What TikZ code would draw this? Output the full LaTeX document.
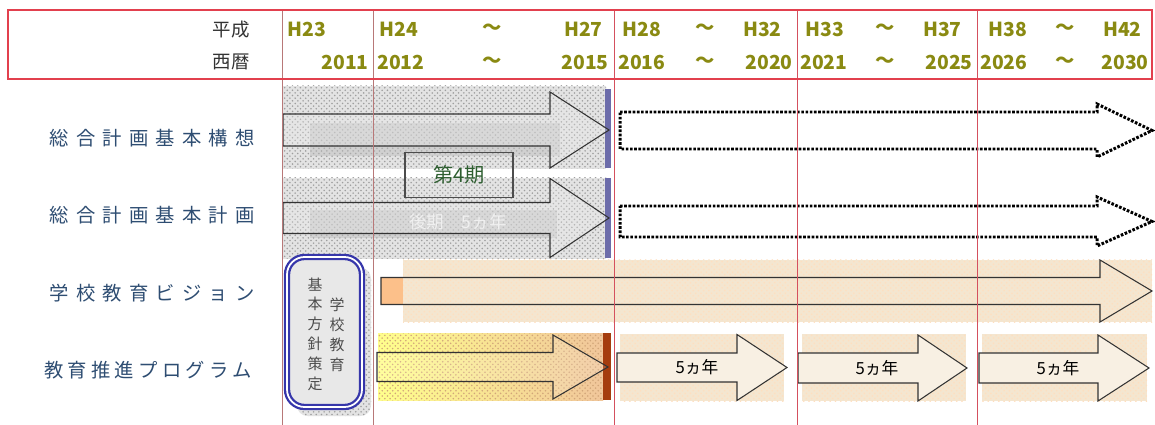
\documentclass[tikz,border=0pt]{standalone}
\usepackage{fontspec}
\setmainfont{Noto Sans CJK JP}
\usepackage{xcolor}
\usetikzlibrary{patterns, positioning}

\definecolor{hdrred}{HTML}{E2404E}
\definecolor{gridred}{HTML}{D4505E}
\definecolor{gridbrown}{HTML}{B87878}
\definecolor{yearol}{HTML}{8A8A12}
\definecolor{rowblue}{HTML}{2E4D72}
\definecolor{slatebar}{HTML}{6C6CAA}
\definecolor{beige}{HTML}{F4E6D0}
\definecolor{peach}{HTML}{FCC08A}
\definecolor{rust}{HTML}{A53C0E}
\definecolor{boxblue}{HTML}{3636AA}
\definecolor{leafgreen}{HTML}{2E5E30}

% block arrow: [opts]{x start}{x head}{x tip}{y centre}{half shaft}{half head}
\newcommand{\blkarrow}[7][]{%
  \draw[#1] (#2,#5-#6) -- (#3,#5-#6) -- (#3,#5-#7) -- (#4,#5)
    -- (#3,#5+#7) -- (#3,#5+#6) -- (#2,#5+#6) -- cycle;}

\begin{document}
\begin{tikzpicture}[x=0.02cm, y=-0.02cm,
  rowlabel/.style={anchor=east, text=rowblue, inner sep=0pt,
    font=\fontsize{11}{13}\selectfont\addfontfeature{LetterSpace=#1}},
  rowlabel/.default=37,
  hdrlabel/.style={anchor=east, text=black!80, inner sep=0pt, font=\fontsize{10.5}{12}\selectfont},
  yearlbl/.style={text=yearol, inner sep=0pt, font=\fontsize{11}{13}\selectfont\bfseries},
  grayband/.style={preaction={fill=gray!22}, pattern=crosshatch dots, pattern color=gray!75},
  peachband/.style={preaction={fill=beige}, pattern=crosshatch dots, pattern color=orange!25},
  outlinearrow/.style={draw=black!80, line width=0.6pt},
  dotarrow/.style={draw=black, line width=1.7pt, dash pattern=on 1.5pt off 0.9pt, fill=white},
  fiveyr/.style={inner sep=0pt, font=\fontsize{9.5}{11}\selectfont},
  boxtxt/.style={inner sep=0pt, text=black!70, align=center,
    font=\fontsize{8.5}{11.3}\selectfont},
]
  \useasboundingbox (0,0) rectangle (1155,425);
  \fill[white] (0,0) rectangle (1155,425);

  % bands behind the arrows
  \fill[grayband] (282,86) rectangle (606,169);
  \fill[grayband] (282,178) rectangle (606,259);
  \fill[gray!55, opacity=0.45] (310,123) rectangle (560,156);
  \fill[gray!55, opacity=0.45] (310,210) rectangle (557,238);
  \fill[slatebar] (605,89) rectangle (611,168);
  \fill[slatebar] (605,178) rectangle (611,258);

  \fill[peachband] (403,260) rectangle (1152,322);
  \fill[peach] (381,277) rectangle (403,304);

  \fill[left color=yellow!45, right color=brown!50!orange!45] (378,333) rectangle (603,400);
  \fill[pattern=crosshatch dots, pattern color=brown!70] (378,333) rectangle (603,400);
  \fill[rust] (603,333) rectangle (611,400);
  \foreach \a/\b in {620/784, 802/966, 982/1147}
    \fill[peachband] (\a,334) rectangle (\b,401);

  % arrows
  \blkarrow[outlinearrow, fill=gray!15, fill opacity=0.3]{283}{550}{609}{130}{16}{38}
  \blkarrow[outlinearrow, fill=gray!15, fill opacity=0.3]{283}{550}{609}{218}{15.5}{39.5}
  \blkarrow[dotarrow]{620}{1097}{1152}{130.5}{18.5}{26.5}
  \blkarrow[dotarrow]{620}{1097}{1152}{221.5}{15.5}{24.5}
  \blkarrow[outlinearrow]{381}{1100}{1152}{291}{13.5}{31}
  \blkarrow[outlinearrow, fill=white, fill opacity=0.15]{377}{553}{608}{367}{14.5}{32}
  \blkarrow[outlinearrow, fill=beige!60!white]{617}{737}{787}{367.5}{14.5}{33}
  \blkarrow[outlinearrow, fill=beige!60!white]{798}{918}{967}{368}{15}{33}
  \blkarrow[outlinearrow, fill=beige!60!white]{979}{1098}{1149}{368}{15}{33}

  % year grid
  \foreach \x in {282,373}
    \draw[gridbrown, line width=0.5pt] (\x,10) -- (\x,425);
  \foreach \x in {614,797,977}
    \draw[gridred, line width=0.5pt] (\x,10) -- (\x,425);
  \draw[hdrred, line width=1.6pt] (8,10) rectangle (1152,79);

  % header
  \node[hdrlabel] (heisei) at (250,30) {平成};
  \node[hdrlabel] (seireki) at (250,62) {西暦};
  \foreach \n/\a/\x/\t in {h23/west/287/H23, h24/west/379/H24, ta/center/492/～,
      h27/east/603/H27, h28/west/622/H28, tb/center/705/～, h32/east/782/H32,
      h33/west/805/H33, tc/center/885/～, h37/east/962/H37, h38/west/988/H38,
      td/center/1065/～, h42/east/1142/H42}
    \node[yearlbl, anchor=\a] (\n) at (\x,29) {\t};
  \foreach \n/\a/\x/\t in {y11/east/369/2011, y12/west/377/2012, ua/center/492/～,
      y15/east/609/2015, y16/west/618/2016, ub/center/705/～, y20/east/793/2020,
      y21/west/800/2021, uc/center/885/～, y25/east/973/2025, y26/west/980/2026,
      ud/center/1065/～, y30/east/1149/2030}
    \node[yearlbl, anchor=\a] (\n) at (\x,62) {\t};

  % row labels
  \node[rowlabel] (kousou) at (255,138) {総合計画基本構想};
  \node[rowlabel] (keikaku) at (255,215) {総合計画基本計画};
  \node[rowlabel] (vision) at (255,293) {学校教育ビジョン};
  \node[rowlabel=22] (suishin) at (252,370) {教育推進プログラム};

  % texts on the bars
  \node[draw=black!70, line width=0.6pt, minimum width=2.16cm, minimum height=0.9cm,
    text=leafgreen, font=\fontsize{11.5}{13}\selectfont] (dai4) at (459,175) {第4期};
  \node[text=white!88!gray, inner sep=0pt, font=\fontsize{10}{12}\selectfont]
    (kouki) at (458,222) {後期　5ヵ年};
  \node[fiveyr] (plan1) at (697,367) {5ヵ年};
  \node[fiveyr] (plan2) at (877,368) {5ヵ年};
  \node[fiveyr] (plan3) at (1058,368) {5ヵ年};

  % policy box
  \fill[grayband, rounded corners=6] (297,268) rectangle (371,416);
  \draw[boxblue, line width=1.3pt, double=white, double distance=1pt,
    fill=gray!18, rounded corners=10] (287,257) rectangle (362,407);
  \node[boxtxt] (kihon) at (315,334) {基\\本\\方\\針\\策\\定};
  \node[boxtxt] (gakkou) at (337,335) {学\\校\\教\\育};
\end{tikzpicture}
\end{document}
